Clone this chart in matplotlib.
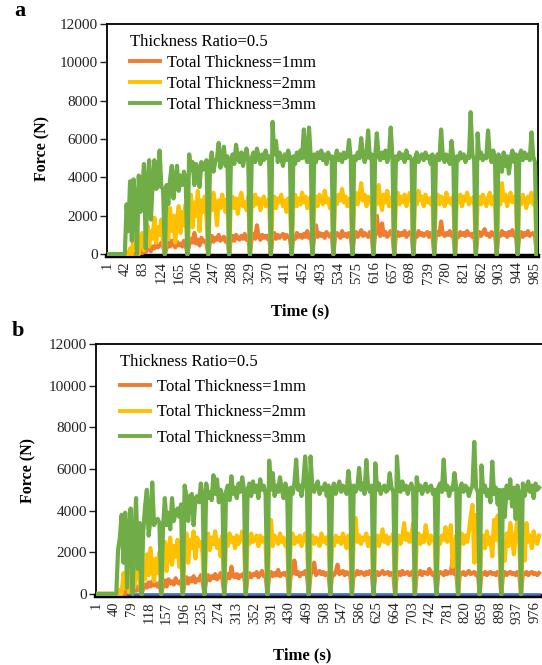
import numpy as np
import matplotlib
matplotlib.use("Agg")
import matplotlib.pyplot as plt
from matplotlib.lines import Line2D

plt.rcParams['font.family'] = ['Liberation Serif', 'DejaVu Serif']

# force readings (N), one value every 4 s
orange_a = [0, 0, 0, 0, 0, 0, 0, 0, 0, 0, 0, 0, 0, 0, 0, 0, 0,
            100, 0, 200, 50, 300, 100, 250, 350, 150, 400, 300, 500, 350, 450, 600, 400, 0,
            300, 600, 400, 700, 500, 350, 650, 450, 550, 400, 700, 500, 0,
            500, 800, 600, 1100, 550, 750, 450, 850, 650, 700, 550, 0,
            700, 950, 650, 850, 750, 1000, 700, 800, 900, 650, 850, 0,
            800, 950, 700, 1000, 850, 750, 950, 800, 1050, 750, 900, 0,
            850, 1050, 800, 1500, 900, 750, 1000, 850, 950, 800, 1000, 0,
            900, 1100, 800, 1000, 850, 950, 1050, 800, 1000, 900, 850, 0,
            950, 800, 1100, 900, 1000, 850, 1050, 900, 1200, 850, 1000, 0,
            1000, 1500, 900, 1100, 950, 1050, 850, 1150, 1000, 900, 1100, 0,
            950, 1100, 1000, 850, 1200, 950, 1050, 900, 1100, 1000, 0,
            1000, 1150, 900, 1050, 1250, 950, 1100, 1000, 900, 1150, 1000, 0,
            1050, 2000, 1100, 950, 1600, 1000, 1150, 900, 1050, 1200, 1000, 0,
            1000, 1150, 950, 1100, 1000, 1200, 900, 1050, 1150, 1000, 0,
            1050, 900, 1200, 1000, 1100, 950, 1050, 1150, 900, 1100, 1000, 0,
            1000, 1150, 1000, 1700, 1050, 950, 1100, 1000, 1200, 950, 1050, 0,
            1050, 900, 1150, 1000, 1100, 950, 1200, 1000, 1050, 900, 1100, 0,
            1000, 1150, 950, 1100, 1300, 1000, 1050, 900, 1150, 1000, 1100, 0,
            1050, 950, 1200, 1000, 1100, 900, 1150, 1000, 1250, 950, 1050, 0,
            1000, 1150, 900, 1100, 1000, 1200, 950, 1050, 1100, 1000, 0]

yellow_a = [0, 0, 0, 0, 0, 0, 0, 0, 0, 0, 0, 0, 0,
            300, 0, 900, 200, 1300, 0, 600, 1100, 200, 900, 1500, 400, 1200, 800, 1900, 600, 1400, 1000, 1800, 700, 0,
            1500, 800, 2400, 1200, 2000, 600, 1800, 2500, 1100, 2200, 1500, 2600, 0,
            1800, 3100, 1400, 2700, 2000, 3300, 1200, 2800, 2200, 3000, 1900, 0,
            2900, 2300, 3200, 2500, 1500, 2800, 2400, 3100, 2600, 2200, 2900, 0,
            2700, 3000, 2400, 2900, 2100, 2800, 3200, 2500, 2700, 2300, 3000, 0,
            2800, 2500, 3100, 2600, 2900, 2300, 2800, 3000, 2500, 2700, 2900, 0,
            2600, 3000, 2400, 2900, 2700, 3100, 2500, 2800, 2200, 2900, 2700, 0,
            2800, 3100, 2500, 2900, 2600, 3200, 2700, 3000, 2400, 2800, 3000, 0,
            2700, 3000, 2500, 3100, 2800, 2600, 3300, 2700, 2900, 2400, 2800, 0,
            2900, 2600, 3100, 2800, 3400, 2700, 3000, 2500, 2900, 2800, 0,
            2700, 3200, 2600, 3000, 3700, 2800, 3100, 2500, 3000, 2700, 2900, 0,
            3000, 2600, 3600, 2800, 2300, 3100, 2700, 3300, 2500, 2900, 3000, 0,
            2800, 3200, 2600, 3000, 2700, 3100, 2500, 2900, 3200, 2700, 0,
            2900, 2600, 3300, 2800, 3000, 2500, 3100, 2700, 2900, 2600, 3000, 0,
            2800, 3100, 2600, 3000, 2900, 2500, 3200, 2700, 2900, 2600, 3000, 0,
            2900, 2700, 3100, 2500, 3000, 2800, 3200, 2600, 2900, 2700, 3000, 0,
            2700, 3000, 2600, 3100, 2800, 2500, 2900, 3200, 2600, 3000, 2800, 0,
            3000, 2600, 3700, 2800, 3100, 2500, 2900, 3200, 2700, 3000, 2800, 0,
            2900, 2600, 3100, 2800, 2400, 3000, 2700, 3200, 2600, 2900, 0]

green_a = [0, 0, 0, 0, 0, 0, 0, 0, 0, 0, 0,
           2600, 1200, 3800, 700, 3900, 2800, 0, 4100, 2200, 3300, 4700, 300, 3500, 4900, 1800, 3700, 4900, 3400, 3500, 5400, 3500, 3400, 0,
           3600, 2600, 3900, 4600, 2900, 3800, 4600, 3300, 4100, 3600, 4300, 3900, 0,
           5200, 4400, 4800, 3600, 4700, 4500, 3500, 4800, 4400, 4700, 4900, 0,
           4600, 5300, 4300, 4800, 5000, 5800, 4500, 5000, 5600, 4600, 5100, 0,
           4800, 5200, 4700, 5700, 5000, 4800, 5300, 4600, 5100, 5500, 4900, 0,
           5000, 5300, 4800, 5500, 5100, 4700, 5200, 4900, 5400, 5000, 5100, 0,
           6900, 5200, 5900, 4800, 5300, 5000, 4600, 5200, 4900, 5400, 5000, 0,
           5100, 4700, 5300, 4900, 5400, 5000, 6500, 5100, 4800, 6600, 5000, 0,
           5200, 4800, 5300, 5000, 5400, 4900, 5200, 4700, 5300, 5000, 5100, 0,
           5000, 5400, 4900, 5200, 4800, 5300, 5000, 5100, 5950, 5000, 0,
           5100, 4900, 5300, 5000, 6050, 5200, 4800, 5100, 6450, 5000, 5200, 0,
           5000, 6300, 5100, 4900, 5300, 5000, 5400, 4800, 5200, 6600, 5000, 0,
           5100, 4900, 5300, 5000, 5200, 4800, 5400, 5000, 5100, 4900, 0,
           5000, 5300, 4800, 5100, 5200, 4900, 5300, 5000, 5100, 4700, 5200, 0,
           5000, 5200, 4900, 6500, 5100, 4800, 5200, 5000, 4700, 5900, 5000, 0,
           5100, 4900, 5300, 5000, 5200, 4800, 5100, 5000, 7400, 5200, 4900, 0,
           6300, 5000, 5300, 4900, 5100, 5000, 6450, 5200, 4800, 5400, 5000, 0,
           5200, 4900, 4300, 5300, 4600, 5100, 4200, 5000, 5400, 4800, 5200, 0,
           5100, 5400, 4900, 5300, 5000, 5200, 4900, 6350, 5100, 4800, 0]

orange_b = [0, 0, 0, 0, 0, 0, 0, 0, 0, 0, 0, 0, 0, 0, 0,
            100, 0, 200, 80, 250, 100, 300, 150, 350, 200, 0,
            250, 450, 300, 550, 350, 600, 400, 500, 350, 550, 0,
            400, 650, 350, 700, 500, 600, 450, 750, 550, 500, 650, 0,
            550, 800, 500, 750, 600, 850, 550, 700, 650, 900, 600, 0,
            700, 900, 650, 850, 750, 950, 700, 800, 1000, 750, 0,
            800, 950, 750, 1300, 850, 800, 950, 750, 900, 850, 1000, 0,
            850, 1000, 800, 950, 900, 1050, 800, 950, 1100, 850, 900, 0,
            900, 1050, 850, 1000, 900, 1150, 850, 950, 1000, 900, 1050, 0,
            900, 1000, 1600, 950, 1050, 850, 1000, 950, 1100, 900, 0,
            950, 1050, 1500, 900, 1000, 1100, 950, 1050, 900, 1000, 950, 0,
            1000, 900, 1050, 1400, 950, 1000, 1100, 900, 1050, 950, 1000, 0,
            1000, 900, 1100, 950, 1050, 1000, 900, 1050, 950, 1100, 1000, 0,
            950, 1050, 900, 1000, 1100, 950, 1000, 1050, 900, 1000, 950, 0,
            1000, 1050, 900, 1100, 950, 1000, 1050, 900, 1000, 1100, 0,
            1000, 950, 1100, 900, 1050, 1000, 950, 1200, 1000, 900, 1050, 0,
            950, 1050, 1000, 900, 1100, 950, 1050, 1000, 1700, 950, 1000, 0,
            1000, 950, 1050, 900, 1000, 1100, 950, 1000, 1050, 900, 1000, 0,
            1000, 950, 1050, 900, 1000, 1050, 950, 1000, 900, 1050, 1000, 0,
            950, 1050, 900, 1000, 1050, 950, 1000, 900, 1050, 950, 0,
            1000, 950, 1050, 900, 1000, 1050, 950, 1000, 900, 1000]

yellow_b = [0, 0, 0, 0, 0, 0, 0, 0, 0, 0, 0, 0, 0,
            200, 0, 1000, 300, 1200, 100, 700, 1500, 300, 1000, 1900, 600, 0,
            1200, 700, 1900, 900, 2200, 1400, 600, 1700, 1000, 2000, 0,
            1600, 2500, 1100, 2100, 2700, 1400, 2300, 1800, 2600, 1300, 2200, 0,
            2000, 2900, 1500, 2600, 2200, 3000, 1700, 2700, 2300, 2500, 1900, 0,
            2500, 2900, 2100, 2700, 2400, 3000, 2200, 2600, 1800, 2800, 0,
            2600, 2300, 2900, 2500, 2700, 2200, 2800, 2400, 2600, 3000, 2500, 0,
            2700, 2400, 2900, 2500, 2600, 2800, 2300, 2800, 2500, 2700, 2400, 0,
            2500, 3550, 2300, 2800, 2600, 2400, 2900, 2500, 2700, 2300, 2600, 0,
            2600, 2900, 2400, 2700, 2500, 2800, 2300, 2600, 2900, 2500, 0,
            2500, 2800, 2400, 2700, 2600, 2300, 2900, 2500, 2700, 2400, 2800, 0,
            2600, 2300, 2800, 2500, 2700, 2400, 2900, 2600, 2200, 2800, 2500, 0,
            2700, 3650, 2500, 2800, 2400, 2700, 2600, 2900, 2300, 2700, 2500, 0,
            2600, 2800, 2300, 2700, 3100, 2500, 2800, 2400, 2700, 2600, 2900, 0,
            2500, 2800, 2400, 2700, 3400, 2600, 2900, 2500, 2700, 3400, 0,
            2600, 2900, 2400, 2800, 2500, 3300, 2700, 2400, 2800, 2600, 2500, 0,
            2700, 2400, 2800, 2600, 3200, 2500, 2700, 3300, 1300, 2400, 2800, 0,
            2600, 2900, 2400, 2800, 2500, 3000, 3700, 4270, 1500, 3800, 2600, 0,
            2500, 2800, 2200, 3000, 2400, 2700, 1800, 3550, 2600, 3750, 2400, 0,
            2500, 1600, 2900, 2300, 3400, 2700, 1900, 2800, 3600, 2500, 0,
            2600, 1600, 3400, 2500, 2800, 2200, 3000, 2600, 2400, 2800]

green_b = [0, 0, 0, 0, 0, 0, 0, 0, 0, 0, 0, 0,
           2100, 2700, 3800, 1500, 3900, 300, 3000, 4100, 0, 2600, 4600, 1200, 3400, 0,
           3000, 4200, 5000, 2800, 3600, 5350, 3300, 3500, 3600, 3400, 0,
           3200, 4600, 3300, 3900, 3100, 4600, 3500, 3900, 4100, 3700, 4300, 0,
           5200, 4700, 3500, 4700, 4800, 3300, 4600, 4700, 4400, 5300, 4700, 0,
           5300, 4600, 4900, 4500, 5700, 4800, 5500, 4400, 5000, 4700, 0,
           4900, 5200, 4500, 5650, 4800, 5100, 4600, 5300, 4900, 5600, 5000, 0,
           5000, 5300, 4700, 5400, 4900, 5200, 4600, 5500, 5000, 5200, 4800, 0,
           6400, 5000, 5800, 4700, 5200, 4900, 5600, 5000, 4600, 5300, 5000, 0,
           5100, 4800, 5300, 6450, 5000, 5200, 4700, 5400, 6600, 5000, 0,
           6600, 5100, 4900, 5200, 5400, 4800, 5100, 5000, 5300, 4700, 5200, 0,
           5000, 5300, 4800, 5100, 5400, 4900, 5200, 5000, 4800, 5900, 5100, 0,
           5200, 4900, 5100, 6050, 5000, 5300, 4800, 6430, 5100, 4900, 5200, 0,
           6270, 5000, 5300, 4800, 5100, 5200, 4900, 5000, 5800, 5100, 4900, 0,
           6600, 5200, 4900, 5400, 5000, 5200, 4800, 5100, 5300, 5000, 0,
           5600, 5000, 5200, 4800, 5100, 5300, 4900, 5100, 5200, 4800, 5000, 0,
           5100, 5300, 4900, 6450, 5000, 5200, 4700, 5100, 5000, 5800, 5100, 0,
           5000, 5300, 4900, 5200, 5100, 4700, 5000, 5200, 7300, 5100, 4900, 0,
           6170, 4900, 5200, 4700, 5000, 4400, 6350, 4800, 5100, 4300, 5000, 0,
           5000, 3700, 5200, 4600, 5500, 4200, 5100, 3600, 5200, 4800, 0,
           5300, 4700, 5100, 5400, 4900, 5200, 4600, 5300, 5000, 5100]

blue_b_time = [1, 985]
blue_b = [0, 0]

labels = ["Total Thickness=1mm", "Total Thickness=2mm", "Total Thickness=3mm"]
colors = ["#ED7D31", "#FFC000", "#70AD47"]
blue = "#4472C4"


def draw_panel(ax, series, xmax, tick_step, spacing):
    for vals, c in zip(series, colors):
        t = 1 + 4 * np.arange(len(vals))
        ax.plot(t, vals, color=c, lw=3.0, zorder=3)
    ax.set_xlim(1, xmax)
    ax.set_ylim(-100, 12000)
    ax.set_yticks(np.arange(0, 12001, 2000))
    ax.set_xticks(np.arange(1, xmax + 1, tick_step))
    ax.tick_params(axis='x', length=0, pad=4, labelsize=10.5, labelrotation=90, colors='#222222')
    ax.tick_params(axis='y', length=5, width=1, pad=2, labelsize=11, colors='#222222')
    for s in ['top', 'right', 'left']:
        ax.spines[s].set_linewidth(1.3)
    ax.spines['bottom'].set_linewidth(3.2)
    ax.spines['bottom'].set_zorder(2)
    handles = [Line2D([], [], color=c, lw=2.8) for c in colors]
    ax.legend(handles, labels, title="Thickness Ratio=0.5", loc='upper left',
              bbox_to_anchor=(0.03, 1.0), frameon=False, fontsize=12,
              title_fontsize=12, handlelength=1.8, handletextpad=0.4,
              labelspacing=spacing, borderaxespad=0.2, alignment='left')


fig = plt.figure(figsize=(5.42, 6.65), dpi=100)

ax_a = fig.add_axes([0.1983, 0.6150, 0.7943, 0.3489])
draw_panel(ax_a, [orange_a, yellow_a, green_a], 992, 41, 0.3)

ax_b = fig.add_axes([0.1780, 0.1038, 0.8240, 0.3789])
ax_b.plot(blue_b_time, blue_b, color=blue, lw=1.8, zorder=2.8)
draw_panel(ax_b, [orange_b, yellow_b, green_b], 994, 39, 0.55)

fig.text(0.037, 0.983, "a", fontsize=16, fontweight='bold', ha='center', va='center')
fig.text(0.033, 0.503, "b", fontsize=16, fontweight='bold', ha='center', va='center')
fig.text(0.079, 0.777, "Force (N)", fontsize=11.5, fontweight='bold', rotation=90, ha='center', va='center')
fig.text(0.052, 0.292, "Force (N)", fontsize=11.5, fontweight='bold', rotation=90, ha='center', va='center')
fig.text(0.553, 0.531, "Time (s)", fontsize=12, fontweight='bold', ha='center', va='center')
fig.text(0.557, 0.015, "Time (s)", fontsize=12, fontweight='bold', ha='center', va='center')

fig.savefig("out.png", dpi=100)
